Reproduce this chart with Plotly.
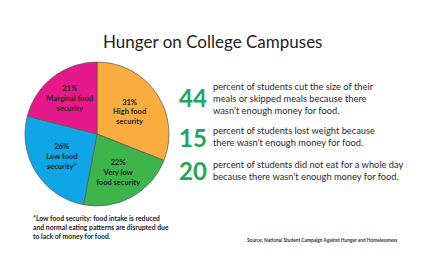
import plotly.graph_objects as go

categories = ["High food<br>security", "Very low<br>food security", "Low food<br>security*", "Marginal food<br>security"]
values = [31, 22, 26, 21]
colors = ["#F9AD3F", "#3DB54A", "#0FA6E8", "#E6198A"]

stat_numbers = ["44", "15", "20"]
stat_texts = [
    "percent of students cut the size of their<br>meals or skipped meals because there<br>wasn't enough money for food.",
    "percent of students lost weight because<br>there wasn't enough money for food.",
    "percent of students did not eat for a whole day<br>because there wasn't enough money for food.",
]
stat_y = [97, 137, 170]
text_y = [98, 136.5, 170.5]

title = "Hunger on College Campuses"
footnote = "*Low food security: food intake is reduced<br>and normal eating patterns are disrupted due<br>to lack of money for food."
source = "Source: National Student Campaign Against Hunger and Homelessness"

W, H = 434, 267

fig = go.Figure()
fig.add_trace(go.Pie(
    labels=categories,
    values=values,
    sort=False,
    direction="clockwise",
    rotation=0,
    marker=dict(colors=colors, line=dict(color="#555555", width=0.7)),
    texttemplate="<b>%{value}%<br>%{label}</b>",
    textposition="inside",
    insidetextorientation="horizontal",
    textfont=dict(family="Lato, Open Sans, sans-serif", size=7.5, color="#222222"),
    showlegend=False,
    hoverinfo="skip",
    domain=dict(x=[25 / W, 169 / W], y=[1 - 206 / H, 1 - 62 / H]),
))

annotations = [
    dict(text=title, x=212 / W, y=1 - 42 / H, xref="paper", yref="paper",
         xanchor="center", yanchor="middle", showarrow=False,
         font=dict(family="Lato, Open Sans, sans-serif", size=17, color="#222222")),
    dict(text="<b>" + footnote + "</b>", x=31 / W, y=1 - 227 / H, xref="paper", yref="paper",
         xanchor="left", yanchor="middle", align="left", showarrow=False,
         font=dict(family="Lato, Open Sans, sans-serif", size=6.8, color="#222222")),
    dict(text="<b>" + source + "</b>", x=245 / W, y=1 - 240 / H, xref="paper", yref="paper",
         xanchor="left", yanchor="middle", align="left", showarrow=False,
         font=dict(family="Lato, Open Sans, sans-serif", size=4.8, color="#333333")),
]
for num, txt, ny, ty in zip(stat_numbers, stat_texts, stat_y, text_y):
    annotations.append(dict(text="<b>" + num + "</b>", x=209 / W, y=1 - ny / H, xref="paper", yref="paper",
                            xanchor="right", yanchor="middle", showarrow=False,
                            font=dict(family="Lato, Open Sans, sans-serif", size=24, color="#1FA65A")))
    annotations.append(dict(text=txt, x=211 / W, y=1 - ty / H, xref="paper", yref="paper",
                            xanchor="left", yanchor="middle", align="left", showarrow=False,
                            font=dict(family="Lato, Open Sans, sans-serif", size=9.3, color="#2a2a2a")))

fig.update_layout(
    width=W, height=H,
    margin=dict(l=0, r=0, t=0, b=0),
    paper_bgcolor="white", plot_bgcolor="white",
    annotations=annotations,
)
fig.write_html("out.html")
